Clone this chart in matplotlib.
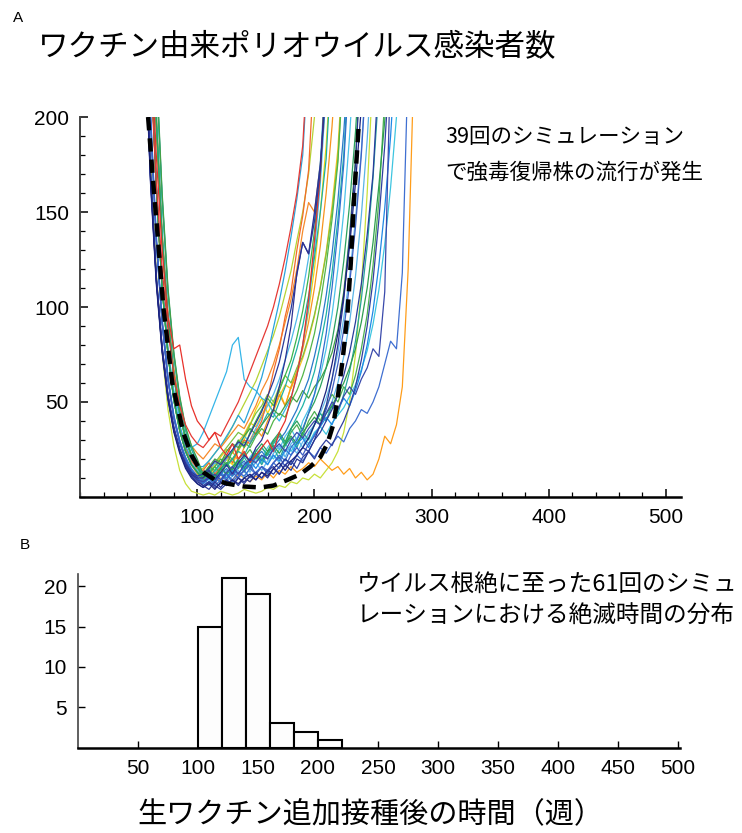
"""Vaccine-derived poliovirus infections: simulation traces and extinction-time histogram."""

import matplotlib

matplotlib.use("Agg")
import matplotlib.pyplot as plt
from matplotlib.colors import to_rgb
from matplotlib.ticker import MultipleLocator

plt.rcParams["font.family"] = ["Noto Sans CJK JP", "DejaVu Sans"]

# --- panel A data: infected counts every 5 weeks, 39 outbreak runs ---
weeks = [55, 60, 65, 70, 75, 80, 85, 90, 95, 100, 105, 110, 115, 120, 125, 130,
         135, 140, 145, 150, 155, 160, 165, 170, 175, 180, 185, 190, 195, 200,
         205, 210, 215, 220, 225, 230, 235, 240, 245, 250, 255, 260, 265, 270,
         275, 280, 285, 290]

traces = [
    [335, 236, 162, 112, 76, 52, 36, 26, 19, 15, 14, 18, 12, 16, 22, 18, 26, 30, 28, 34,
     40, 52, 66, 78, 95, 108, 130, 148, 172, 230],
    [252, 172, 116, 79, 53, 36, 25, 17, 12, 10, 10, 14, 9, 13, 17, 12, 18, 22, 19, 26,
     30, 38, 46, 58, 72, 90, 118, 134, 128, 150, 175, 215],
    [340, 240, 165, 112, 78, 56, 42, 32, 26, 28, 34, 42, 50, 58, 66, 80, 84, 62, 58, 56,
     52, 50, 44, 40, 46, 52, 64, 80, 100, 130, 165, 215],
    [330, 245, 180, 130, 95, 78, 80, 62, 48, 40, 36, 30, 34, 26, 22, 28, 20, 24, 18, 22,
     26, 30, 24, 34, 40, 52, 64, 80, 104, 135, 170, 225],
    [270, 182, 118, 76, 46, 27, 14, 7, 3, 2, 1, 2, 1, 3, 2, 1, 2, 4, 3, 2,
     3, 5, 4, 6, 5, 8, 7, 10, 9, 12, 10, 14, 18, 24, 34, 50, 75, 110, 160, 225],
    [390, 280, 198, 136, 93, 64, 44, 31, 22, 16, 12, 16, 11, 15, 20, 17, 24, 30, 38, 46,
     52, 44, 50, 56, 48, 58, 66, 80, 98, 120, 150, 185, 235],
    [338, 238, 163, 110, 75, 51, 35, 24, 17, 13, 8, 12, 16, 20, 17, 24, 30, 26, 34, 40,
     46, 52, 48, 56, 64, 72, 84, 98, 116, 140, 170, 230],
    [292, 202, 136, 92, 62, 42, 29, 20, 14, 10, 7, 10, 6, 9, 12, 8, 11, 14, 10, 13,
     16, 12, 18, 22, 19, 26, 30, 36, 44, 54, 68, 86, 110, 140, 175, 230],
    [395, 284, 200, 138, 95, 65, 45, 31, 22, 16, 12, 15, 10, 14, 18, 13, 17, 21, 16, 22,
     26, 22, 28, 32, 28, 36, 42, 48, 56, 66, 80, 96, 118, 146, 180, 235],
    [248, 168, 114, 77, 52, 35, 24, 16, 11, 8, 6, 4, 8, 5, 9, 6, 10, 7, 11, 9,
     13, 10, 15, 12, 17, 14, 20, 18, 24, 30, 38, 48, 62, 80, 104, 136, 175, 235],
    [388, 278, 196, 135, 92, 63, 44, 30, 22, 16, 11, 15, 19, 14, 20, 24, 19, 26, 30, 36,
     32, 40, 46, 54, 48, 58, 66, 78, 92, 110, 132, 160, 195, 240],
    [342, 240, 164, 111, 76, 52, 36, 25, 18, 14, 12, 9, 13, 17, 12, 16, 20, 15, 21, 25,
     20, 26, 30, 25, 32, 36, 30, 40, 46, 54, 64, 78, 96, 120, 150, 190, 240],
    [392, 282, 199, 137, 94, 64, 45, 31, 22, 16, 11, 14, 10, 15, 18, 14, 20, 23, 18, 24,
     28, 24, 30, 34, 29, 36, 40, 35, 44, 50, 58, 68, 82, 100, 124, 154, 192, 240],
    [288, 198, 134, 91, 61, 41, 28, 19, 13, 10, 8, 11, 7, 12, 9, 13, 10, 14, 17, 12,
     16, 13, 18, 21, 16, 22, 26, 22, 28, 32, 38, 46, 56, 70, 88, 112, 142, 180, 230],
    [430, 315, 225, 158, 108, 75, 52, 36, 26, 19, 11, 8, 12, 9, 14, 11, 15, 18, 13, 19,
     22, 17, 23, 27, 21, 28, 31, 26, 34, 38, 44, 40, 50, 60, 74, 92, 116, 148, 188, 240],
    [340, 238, 163, 110, 75, 51, 35, 24, 17, 13, 10, 13, 8, 12, 10, 15, 18, 13, 19, 22,
     17, 23, 26, 20, 27, 31, 26, 34, 30, 38, 44, 40, 48, 44, 54, 66, 82, 104, 132, 168, 215],
    [390, 280, 198, 136, 93, 64, 44, 31, 22, 16, 9, 13, 16, 12, 17, 20, 15, 21, 25, 20,
     26, 22, 29, 33, 27, 34, 38, 32, 40, 45, 40, 48, 54, 50, 58, 54, 64, 78, 96, 122, 156, 210],
    [250, 170, 115, 78, 53, 36, 25, 17, 12, 9, 6, 8, 5, 7, 9, 6, 10, 8, 11, 13,
     10, 14, 16, 12, 17, 19, 15, 21, 24, 20, 26, 30, 27, 34, 40, 48, 58, 72, 90, 114,
     146, 185, 235],
    [290, 200, 135, 92, 62, 42, 29, 20, 14, 10, 8, 11, 9, 13, 10, 14, 12, 16, 19, 15,
     20, 17, 22, 19, 25, 22, 28, 31, 26, 33, 37, 42, 38, 46, 52, 48, 56, 66, 80, 98,
     122, 152, 190, 240],
    [336, 236, 162, 110, 75, 51, 35, 24, 17, 12, 9, 11, 8, 10, 7, 9, 12, 10, 8, 11,
     9, 13, 10, 14, 12, 16, 13, 15, 18, 16, 20, 17, 14, 16, 12, 15, 10, 13, 9, 12,
     20, 32, 28, 38, 58, 120, 230],
    [294, 204, 138, 94, 63, 43, 30, 21, 15, 11, 9, 7, 10, 8, 12, 9, 13, 11, 15, 12,
     16, 14, 18, 15, 20, 17, 22, 19, 24, 21, 26, 23, 28, 32, 29, 36, 40, 46, 44, 50,
     58, 70, 82, 78, 118, 230],
    [252, 171, 116, 79, 54, 37, 25, 17, 12, 9, 8, 10, 12, 9, 13, 16, 12, 17, 20, 18,
     22, 20, 25, 28, 24, 30, 34, 31, 36, 40, 38, 44, 50, 46, 53, 58, 54, 62, 68, 78,
     74, 108, 230],
    [432, 318, 228, 160, 110, 76, 53, 37, 27, 20, 12, 16, 20, 18, 24, 28, 26, 32, 36, 33,
     38, 42, 46, 43, 48, 53, 50, 56, 52, 58, 62, 68, 76, 88, 108, 138, 178, 235],
    [388, 278, 196, 135, 92, 63, 44, 30, 21, 16, 12, 15, 18, 22, 26, 30, 34, 32, 38, 44,
     48, 54, 50, 58, 64, 60, 68, 74, 84, 96, 110, 128, 150, 178, 230],
    [340, 238, 163, 110, 75, 51, 35, 24, 17, 14, 15, 19, 23, 27, 31, 37, 43, 49, 55, 61,
     69, 77, 85, 95, 107, 119, 135, 150, 170, 200, 240],
    [395, 285, 203, 140, 97, 68, 48, 35, 27, 23, 20, 24, 28, 26, 30, 34, 38, 36, 42, 48,
     56, 62, 70, 80, 92, 104, 120, 140, 155, 150, 175, 210, 245],
    [250, 170, 115, 78, 53, 36, 25, 18, 13, 11, 12, 15, 19, 17, 21, 25, 29, 27, 33, 39,
     45, 53, 61, 71, 85, 99, 117, 134, 128, 145, 172, 225],
    [342, 240, 165, 112, 77, 53, 38, 27, 20, 16, 16, 19, 23, 27, 32, 37, 43, 39, 47, 54,
     63, 75, 89, 103, 119, 137, 157, 180, 235],
    [310, 225, 165, 120, 88, 64, 48, 38, 32, 28, 26, 30, 34, 32, 38, 44, 50, 58, 66, 74,
     82, 90, 100, 112, 126, 142, 160, 185, 240],
    [246, 166, 112, 76, 51, 34, 23, 15, 10, 7, 5, 7, 4, 8, 6, 9, 7, 10, 12, 9,
     13, 11, 15, 18, 14, 19, 22, 26, 31, 38, 46, 56, 70, 86, 106, 132, 165, 205],
    [290, 200, 135, 92, 62, 42, 29, 20, 14, 10, 7, 10, 8, 12, 15, 11, 16, 19, 15, 21,
     24, 20, 26, 30, 34, 40, 46, 54, 62, 74, 88, 106, 128, 156, 192, 238],
    [340, 238, 163, 110, 75, 51, 35, 24, 17, 13, 11, 14, 18, 15, 20, 24, 28, 32, 29, 36,
     42, 48, 54, 62, 72, 82, 94, 108, 126, 148, 176, 230],
    [428, 312, 222, 156, 107, 74, 51, 35, 25, 18, 12, 10, 14, 18, 16, 20, 24, 22, 28, 33,
     38, 44, 42, 50, 58, 68, 78, 90, 106, 126, 150, 178, 235],
    [338, 237, 162, 110, 75, 51, 35, 24, 17, 13, 10, 13, 11, 15, 12, 16, 19, 15, 20, 23,
     19, 24, 27, 23, 28, 32, 28, 34, 38, 42, 38, 44, 48, 54, 60, 68, 78, 92, 110, 134,
     164, 198, 245],
    [390, 280, 198, 136, 93, 64, 44, 31, 22, 15, 8, 6, 9, 12, 8, 11, 14, 10, 15, 18,
     14, 19, 22, 18, 24, 27, 23, 29, 33, 38, 44, 52, 62, 76, 94, 116, 146, 182, 235],
    [340, 238, 163, 110, 75, 51, 35, 24, 17, 13, 11, 14, 17, 21, 25, 23, 29, 33, 39, 37,
     43, 49, 45, 53, 59, 57, 65, 73, 83, 95, 111, 129, 153, 183, 235],
    [248, 168, 114, 77, 52, 35, 24, 16, 11, 7, 5, 8, 6, 4, 7, 9, 6, 10, 8, 12,
     10, 14, 12, 16, 20, 17, 22, 26, 24, 30, 34, 40, 46, 54, 64, 76, 92, 112, 138, 170, 225],
    [430, 315, 225, 158, 108, 75, 52, 36, 26, 19, 12, 9, 13, 16, 12, 15, 18, 14, 19, 22,
     18, 23, 20, 25, 28, 24, 29, 32, 28, 34, 37, 33, 39, 43, 47, 53, 59, 67, 77, 91,
     109, 133, 163, 200, 245],
    [388, 278, 196, 135, 92, 63, 44, 30, 22, 16, 12, 16, 14, 18, 22, 20, 25, 29, 26, 32,
     36, 33, 40, 44, 42, 50, 56, 64, 74, 86, 102, 122, 146, 176, 230],
]

trace_colors = [
    "#f26b2a", "#2e3192", "#35b5e8", "#e8312a", "#c8e03a", "#f5d80f", "#3cb44b",
    "#2f6fce", "#1fb3a6", "#283593", "#f7941d", "#4cc3ea", "#2ca25f", "#3d5fc4",
    "#5ab4e5", "#26a69a", "#4caf50", "#303f9f", "#1e88e5", "#ff9d1a", "#3f6fd1",
    "#3949ab", "#43a047", "#7cc242", "#b5d334", "#f68a2a", "#2a3a9a", "#29a3dc",
    "#e53935", "#1a237e", "#2979c9", "#4fb8e8", "#20b0a0", "#2e9e4f", "#62b8ea",
    "#f9c21a", "#283c9c", "#3ec5e0", "#52b548",
]

# mean trajectory (dashed)
mean_weeks = [58, 62, 66, 71, 78.6, 88, 95, 102.6, 115, 125.6, 140, 154, 165, 177,
              188, 196.6, 205, 211, 216, 219.6, 224, 228, 231, 233.7, 237.6]
mean_counts = [200, 168, 139, 100, 60, 34, 22, 14, 9, 7, 5.5, 5, 6, 9,
               12, 16, 21, 28, 38, 51, 72, 95, 123, 156, 194]

# --- panel B data: extinction times of the 61 runs ---
bin_lefts = [100, 120, 140, 160, 180, 200]
bin_counts = [15, 21, 19, 3, 2, 1]

title_a = "ワクチン由来ポリオウイルス感染者数"
note_a = "39回のシミュレーション\nで強毒復帰株の流行が発生"
note_b = "ウイルス根絶に至った61回のシミュ\nレーションにおける絶滅時間の分布"
xlabel = "生ワクチン追加接種後の時間（週）"

TICK_FONT = ["Liberation Sans", "DejaVu Sans"]


def luminance(color):
    r, g, b = to_rgb(color)
    return 0.299 * r + 0.587 * g + 0.114 * b


def style_ticks(axis):
    for lab in axis.get_xticklabels() + axis.get_yticklabels():
        lab.set_fontfamily(TICK_FONT)
        lab.set_fontsize(15)


fig = plt.figure(figsize=(7.42, 8.33), dpi=100)

# panel A -- light traces first so the dark blue ones sit on top
ax = fig.add_axes([0.108, 0.4034, 0.81, 0.4561])
order = sorted(range(len(traces)), key=lambda i: -luminance(trace_colors[i]))
for i in order:
    vals = traces[i]
    ax.plot(weeks[: len(vals)], vals, color=trace_colors[i], lw=0.9)
ax.plot(mean_weeks, mean_counts, color="black", lw=3.2, linestyle=(0, (3, 1.8)),
        dash_capstyle="butt", zorder=5)
ax.set_xlim(0, 513)
ax.set_ylim(0, 200)
ax.set_xticks([100, 200, 300, 400, 500])
ax.xaxis.set_minor_locator(MultipleLocator(20))
ax.set_yticks([50, 100, 150, 200])
ax.yaxis.set_minor_locator(MultipleLocator(10))
for side in ("top", "right"):
    ax.spines[side].set_visible(False)
ax.spines["left"].set_color("#444444")
ax.spines["left"].set_linewidth(1.4)
ax.spines["bottom"].set_linewidth(1.8)
ax.tick_params(which="major", direction="in", length=6, width=1.1, pad=8)
ax.tick_params(which="minor", direction="in", length=3.5, width=0.9)
style_ticks(ax)

fig.text(18 / 742, 1 - 18 / 833, "A", fontsize=11, ha="center", va="center",
         family=TICK_FONT)
fig.text(38 / 742, 1 - 48 / 833, title_a, fontsize=22, ha="left", va="center")
fig.text(445 / 742, 1 - 155 / 833, note_a, fontsize=15.5, ha="left", va="center",
         linespacing=1.8)

# panel B
bx = fig.add_axes([0.105, 0.1024, 0.812, 0.2085])
bx.bar(bin_lefts, bin_counts, width=20, align="edge", facecolor="#fdfdfd",
       edgecolor="black", linewidth=1.5, zorder=3)
bx.set_xlim(0, 502)
bx.set_ylim(0, 21.5)
bx.set_xticks([50, 100, 150, 200, 250, 300, 350, 400, 450, 500])
bx.set_yticks([5, 10, 15, 20])
for side in ("top", "right"):
    bx.spines[side].set_visible(False)
bx.spines["left"].set_color("#444444")
bx.spines["left"].set_linewidth(1.2)
bx.spines["bottom"].set_linewidth(1.8)
bx.tick_params(direction="in", length=5, width=1.0, pad=8)
style_ticks(bx)

fig.text(25 / 742, 1 - 545 / 833, "B", fontsize=11, ha="center", va="center",
         family=TICK_FONT)
fig.text(357 / 742, 1 - 600 / 833, note_b, fontsize=17, ha="left", va="center",
         linespacing=1.5)
fig.text(370 / 742, 1 - 815 / 833, xlabel, fontsize=21, ha="center", va="center")

fig.savefig("out.png", dpi=100)
